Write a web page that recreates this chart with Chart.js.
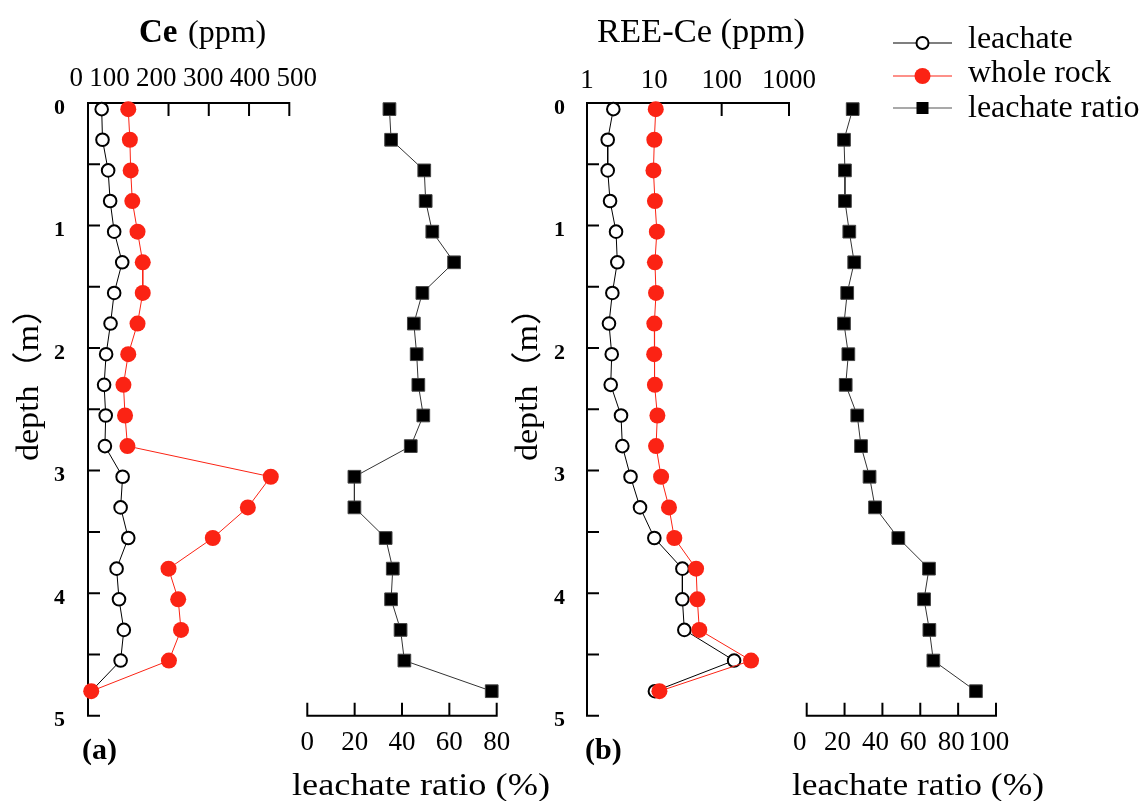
<!DOCTYPE html>
<html>
<head>
<meta charset="utf-8">
<title>Ce and REE-Ce leaching profiles</title>
<script src="https://cdn.jsdelivr.net/npm/chart.js@4.4.0/dist/chart.umd.min.js"></script>
<style>
  html, body { margin: 0; padding: 0; background: #fff; }
  #wrap { position: relative; width: 1145px; height: 801px; overflow: hidden; }
  #wrap canvas { position: absolute; left: 0; top: 0; }
</style>
</head>
<body>
<div id="wrap">
  <canvas id="ceChart" width="1145" height="801"></canvas>
  <canvas id="ceRatioChart" width="1145" height="801"></canvas>
  <canvas id="reeChart" width="1145" height="801"></canvas>
  <canvas id="reeRatioChart" width="1145" height="801"></canvas>
</div>
<script>
// Sample depths (m)
const depth = [0.05, 0.3, 0.55, 0.8, 1.05, 1.3, 1.55, 1.8, 2.05, 2.3, 2.55, 2.8, 3.05, 3.3, 3.55, 3.8, 4.05, 4.3, 4.55, 4.8];

// Ce (ppm)
const ceLeachate  = [34, 36, 50, 55, 65, 85, 65, 56, 45, 40, 44, 42, 86, 81, 100, 71, 77, 89, 81, 8];
const ceWholeRock = [100, 104, 106, 110, 123, 136, 136, 123, 100, 88, 92, 98, 454, 397, 310, 200, 224, 231, 201, 8];
const ceRatio     = [34.7, 35.4, 49.4, 50, 52.8, 62, 48.6, 45, 46.2, 46.9, 49, 43.7, 19.9, 19.9, 33.1, 36.1, 35.4, 39.4, 41, 77.9];

// REE-Ce (ppm)
const reeLeachate  = [2.46, 2.03, 2.03, 2.2, 2.7, 2.82, 2.38, 2.12, 2.33, 2.25, 3.2, 3.35, 4.43, 6.13, 10.0, 26.1, 26.1, 27.9, 153, 10.2];
const reeWholeRock = [10.5, 10.0, 9.7, 10.2, 10.9, 10.2, 10.6, 10.0, 9.95, 10.2, 11.1, 10.6, 12.6, 16.5, 19.8, 41.7, 43.5, 46.6, 273, 11.9];
const reeRatio     = [24.3, 19.7, 20.2, 20.2, 22.5, 25.1, 21.4, 19.7, 22.0, 20.6, 26.7, 28.7, 33.2, 36.1, 48.4, 64.6, 62.0, 64.8, 66.9, 89.4];

// Axis ticks
const depthTicks      = [0, 1, 2, 3, 4, 5];
const depthMinorTicks = [0, 0.5, 1, 1.5, 2, 2.5, 3, 3.5, 4, 4.5, 5];
const ceTicks         = [0, 100, 200, 300, 400, 500];
const reeTicks        = [1, 10, 100, 1000];
const ratioTicksA     = [0, 20, 40, 60, 80];
const ratioTicksB     = [0, 20, 40, 60, 80, 100];

const SERIF = "'Liberation Serif', 'Noto Sans CJK SC', serif";
const RED = '#fb2314';

Chart.defaults.font.family = SERIF;
Chart.defaults.color = '#000';
Chart.defaults.animation = false;

const pts = (vals) => vals.map((v, i) => ({ x: v, y: depth[i] }));
const setTicks = (list) => (scale) => { scale.ticks = list.map(v => ({ value: v })); };

// Axis lines with inward tick marks
const framePlugin = {
  id: 'frame',
  beforeDatasetsDraw(chart, args, opts) {
    if (!opts || !opts.sides) return;
    const { ctx, chartArea: a, scales } = chart;
    ctx.save();
    ctx.strokeStyle = '#000';
    ctx.lineWidth = 2;
    ctx.lineCap = 'square';
    const len = opts.tickLength || 12;
    ctx.beginPath();
    opts.sides.forEach(side => {
      const s = scales[side.scale];
      if (side.pos === 'top') {
        ctx.moveTo(a.left, a.top); ctx.lineTo(a.right, a.top);
        side.ticks.forEach(v => { const p = s.getPixelForValue(v); ctx.moveTo(p, a.top); ctx.lineTo(p, a.top + len); });
      } else if (side.pos === 'bottom') {
        ctx.moveTo(a.left, a.bottom); ctx.lineTo(a.right, a.bottom);
        side.ticks.forEach(v => { const p = s.getPixelForValue(v); ctx.moveTo(p, a.bottom); ctx.lineTo(p, a.bottom - len); });
      } else if (side.pos === 'left') {
        ctx.moveTo(a.left, a.top); ctx.lineTo(a.left, a.bottom);
        side.ticks.forEach(v => { const p = s.getPixelForValue(v); ctx.moveTo(a.left, p); ctx.lineTo(a.left + len - 1, p); });
      }
    });
    ctx.stroke();
    ctx.restore();
  }
};

// Free text: titles, axis names, panel letters, key labels
const textPlugin = {
  id: 'freeText',
  afterDraw(chart, args, opts) {
    if (!opts || !opts.items) return;
    const ctx = chart.ctx;
    opts.items.forEach(t => {
      ctx.save();
      ctx.font = t.font;
      ctx.fillStyle = '#000';
      ctx.textAlign = 'left';
      ctx.textBaseline = t.baseline || 'alphabetic';
      ctx.translate(t.x, t.y);
      if (t.rotate) ctx.rotate(t.rotate);
      const w = ctx.measureText(t.text).width;
      const sx = t.width ? t.width / w : 1;
      ctx.scale(sx, 1);
      const x0 = t.center ? -w / 2 : 0;
      ctx.fillText(t.text, x0, 0);
      ctx.restore();
    });
  }
};

// Key: line segment with the series marker
const keyPlugin = {
  id: 'seriesKey',
  afterDraw(chart, args, opts) {
    if (!opts || !opts.items) return;
    const ctx = chart.ctx;
    opts.items.forEach(k => {
      ctx.save();
      ctx.strokeStyle = k.line;
      ctx.lineWidth = 1.2;
      ctx.beginPath(); ctx.moveTo(k.x0, k.y); ctx.lineTo(k.x1, k.y); ctx.stroke();
      const cx = (k.x0 + k.x1) / 2;
      if (k.marker === 'open') {
        ctx.fillStyle = '#fff'; ctx.strokeStyle = '#000'; ctx.lineWidth = 2;
        ctx.beginPath(); ctx.arc(cx, k.y, 6, 0, Math.PI * 2); ctx.fill(); ctx.stroke();
      } else if (k.marker === 'dot') {
        ctx.fillStyle = RED;
        ctx.beginPath(); ctx.arc(cx, k.y, 8, 0, Math.PI * 2); ctx.fill();
      } else {
        ctx.fillStyle = '#000';
        ctx.fillRect(cx - 6, k.y - 6, 12, 12);
      }
      ctx.restore();
    });
  }
};

Chart.register(framePlugin, textPlugin, keyPlugin);

const leachateStyle = {
  borderColor: '#000', borderWidth: 1,
  pointStyle: 'circle', pointRadius: 6.3, pointBorderWidth: 2,
  pointBorderColor: '#000', pointBackgroundColor: '#fff',
  showLine: true, tension: 0, clip: false
};
const rockStyle = {
  borderColor: RED, borderWidth: 1,
  pointStyle: 'circle', pointRadius: 8, pointBorderWidth: 0,
  pointBorderColor: RED, pointBackgroundColor: RED,
  showLine: true, tension: 0, clip: false
};
const ratioStyle = {
  borderColor: '#333', borderWidth: 1,
  pointStyle: 'rect', pointRadius: 9, pointBorderWidth: 1,
  pointBorderColor: '#444', pointBackgroundColor: '#000',
  showLine: true, tension: 0, clip: false
};

const baseOptions = {
  responsive: false,
  devicePixelRatio: 1,
  animation: false,
  events: [],
  plugins: { legend: { display: false }, tooltip: { enabled: false } }
};

const depthAxis = (width, pad) => ({
  type: 'linear', reverse: true, min: 0, max: 5,
  afterBuildTicks: setTicks(depthTicks),
  afterFit: (s) => { s.width = width; },
  grid: { display: false }, border: { display: false },
  ticks: { font: { size: 22, weight: 'bold' }, color: '#000', padding: pad, labelOffset: 5, autoSkip: false }
});
const hiddenDepth = { type: 'linear', display: false, reverse: true, min: 0, max: 5 };

const ratioAxis = (max, list, offset) => ({
  type: 'linear', position: 'bottom', min: 0, max: max,
  afterBuildTicks: setTicks(list),
  afterFit: (s) => { s.height = 85.3; },
  grid: { display: false }, border: { display: false },
  ticks: { font: { size: 27 }, color: '#000', padding: 3, autoSkip: false, maxRotation: 0, minRotation: 0, labelOffset: offset, callback: v => String(v) }
});

// Panel (a): Ce concentration
new Chart(document.getElementById('ceChart'), {
  type: 'scatter',
  data: {
    datasets: [
      Object.assign({ label: 'whole rock', data: pts(ceWholeRock) }, rockStyle),
      Object.assign({ label: 'leachate', data: pts(ceLeachate) }, leachateStyle)
    ]
  },
  options: Object.assign({}, baseOptions, {
    layout: { padding: { left: 0, top: 0, right: 1145 - 289.3, bottom: 801 - 715.7 } },
    scales: {
      x: { type: 'linear', display: false, min: 0, max: 500 },
      xLabels: {
        type: 'linear', position: 'top', min: 10.68, max: 440.8,
        afterBuildTicks: setTicks(ceTicks),
        afterFit: (s) => { s.height = 103; },
        grid: { display: false }, border: { display: false },
        ticks: { align: 'end', font: { size: 27 }, color: '#000', padding: 0, autoSkip: false, maxRotation: 0, minRotation: 0, callback: v => String(v) }
      },
      y: depthAxis(88, 15)
    },
    plugins: Object.assign({}, baseOptions.plugins, {
      frame: { sides: [
        { pos: 'top', scale: 'x', ticks: ceTicks },
        { pos: 'left', scale: 'y', ticks: depthMinorTicks }
      ] },
      freeText: { items: [
        { text: 'Ce', font: `bold 33px ${SERIF}`, x: 139, y: 42 },
        { text: '(ppm)', font: `32px ${SERIF}`, x: 188, y: 42 },
        { text: 'depth（m）', font: `31px ${SERIF}`, x: 30, y: 376, rotate: -Math.PI / 2, center: true, baseline: 'middle', width: 170 },
        { text: '(a)', font: `bold 30px ${SERIF}`, x: 82, y: 759 }
      ] }
    })
  })
});

// Panel (a): leachate ratio
new Chart(document.getElementById('ceRatioChart'), {
  type: 'scatter',
  data: { datasets: [ Object.assign({ label: 'leachate ratio', data: pts(ceRatio) }, ratioStyle) ] },
  options: Object.assign({}, baseOptions, {
    layout: { padding: { left: 307.3, top: 103, right: 1145 - 496.7, bottom: 0 } },
    scales: { x: ratioAxis(80, ratioTicksA, 0), y: hiddenDepth },
    plugins: Object.assign({}, baseOptions.plugins, {
      frame: { sides: [ { pos: 'bottom', scale: 'x', ticks: ratioTicksA } ] },
      freeText: { items: [
        { text: 'leachate ratio (%)', font: `32px ${SERIF}`, x: 292, y: 795, width: 258 }
      ] }
    })
  })
});

// Panel (b): REE-Ce concentration (log scale)
new Chart(document.getElementById('reeChart'), {
  type: 'scatter',
  data: {
    datasets: [
      Object.assign({ label: 'whole rock', data: pts(reeWholeRock) }, rockStyle),
      Object.assign({ label: 'leachate', data: pts(reeLeachate) }, leachateStyle)
    ]
  },
  options: Object.assign({}, baseOptions, {
    layout: { padding: { left: 547, top: 0, right: 1145 - 789, bottom: 801 - 715.7 } },
    scales: {
      x: {
        type: 'logarithmic', position: 'top', min: 1, max: 1000,
        afterBuildTicks: setTicks(reeTicks),
        afterFit: (s) => { s.height = 103; },
        grid: { display: false }, border: { display: false },
        ticks: { font: { size: 27 }, color: '#000', padding: -2, autoSkip: false, maxRotation: 0, minRotation: 0, callback: v => String(v) }
      },
      y: depthAxis(40, 14)
    },
    plugins: Object.assign({}, baseOptions.plugins, {
      frame: { sides: [
        { pos: 'top', scale: 'x', ticks: reeTicks },
        { pos: 'left', scale: 'y', ticks: depthMinorTicks }
      ] },
      freeText: { items: [
        { text: 'REE-Ce (ppm)', font: `34.5px ${SERIF}`, x: 597, y: 42 },
        { text: 'depth（m）', font: `31px ${SERIF}`, x: 529, y: 376, rotate: -Math.PI / 2, center: true, baseline: 'middle', width: 170 },
        { text: '(b)', font: `bold 30px ${SERIF}`, x: 585, y: 759 }
      ] }
    })
  })
});

// Panel (b): leachate ratio, plus the shared key
new Chart(document.getElementById('reeRatioChart'), {
  type: 'scatter',
  data: { datasets: [ Object.assign({ label: 'leachate ratio', data: pts(reeRatio) }, ratioStyle) ] },
  options: Object.assign({}, baseOptions, {
    layout: { padding: { left: 806.7, top: 103, right: 1145 - 996, bottom: 0 } },
    scales: { x: ratioAxis(100, ratioTicksB, -7), y: hiddenDepth },
    plugins: Object.assign({}, baseOptions.plugins, {
      frame: { sides: [ { pos: 'bottom', scale: 'x', ticks: ratioTicksB } ] },
      seriesKey: { items: [
        { x0: 893, x1: 952, y: 43, line: '#000', marker: 'open' },
        { x0: 893, x1: 952, y: 76, line: RED, marker: 'dot' },
        { x0: 893, x1: 952, y: 108, line: '#555', marker: 'square' }
      ] },
      freeText: { items: [
        { text: 'leachate ratio (%)', font: `32px ${SERIF}`, x: 792, y: 795, width: 252 },
        { text: 'leachate', font: `32px ${SERIF}`, x: 968, y: 48 },
        { text: 'whole rock', font: `32px ${SERIF}`, x: 968, y: 82 },
        { text: 'leachate ratio', font: `32px ${SERIF}`, x: 968, y: 117 }
      ] }
    })
  })
});
</script>
</body>
</html>
